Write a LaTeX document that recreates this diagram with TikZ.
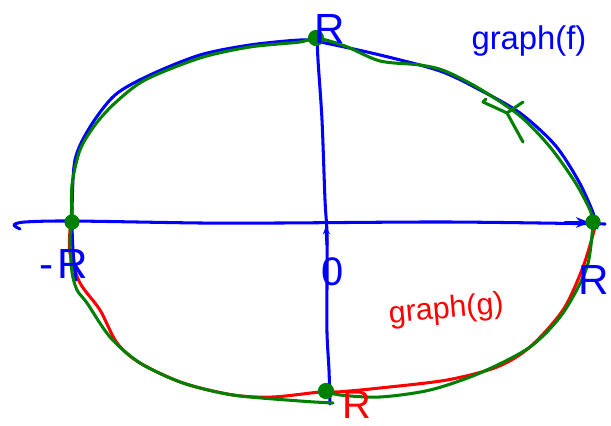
\documentclass[tikz,border=0pt]{standalone}
\usepackage{fontspec}
\setmainfont{Liberation Sans}
\usetikzlibrary{arrows.meta}
\definecolor{penblue}{RGB}{0,0,255}
\definecolor{pengreen}{RGB}{0,128,0}
\definecolor{penred}{RGB}{255,0,0}
\begin{document}
\begin{tikzpicture}[x=0.03cm,y=-0.03cm,line cap=round,line join=round,
  pen/.style={line width=2.6pt},
  bluepen/.style={pen,draw=penblue},
  greenpen/.style={pen,draw=pengreen},
  redpen/.style={pen,draw=penred},
  dotmark/.style={fill=pengreen,draw=pengreen,line width=1pt},
  lbl/.style={inner sep=0pt,font=\fontsize{#1}{#1}\selectfont},
  lbl/.default=34]
\useasboundingbox (0,0) rectangle (611,426);
% named points
\coordinate (T) at (316,38);
\coordinate (L) at (72,222);
\coordinate (Rt) at (593,222);
\coordinate (B) at (326,391);
% axes
\draw[bluepen] plot[smooth] coordinates {(20,229) (14,225) (25,222) (72,221) (200,223) (280,223) (447,222) (605,224)};
\draw[bluepen,-{Stealth[length=12pt,width=9pt]}] (565,222.5) -- (590,222.5);
\draw[bluepen] plot[smooth] coordinates {(330,404) (329,370) (327,333) (327,280) (327,233) (325,200) (322,120) (318,60) (317,33)};
\draw[bluepen,-{Stealth[length=7pt,width=6pt]}] (327,245) -- (326,226);
% red lower half
\draw[redpen] plot[smooth] coordinates {(72,207) (70,230) (70,253) (80,283) (100,310) (117,343) (140,363) (183,383) (233,395) (273,397) (320,392) (337,392) (380,388) (447,380) (497,367) (530,347) (563,310) (583,267) (595,227) (596,218)};
% blue upper half
\draw[bluepen] plot[smooth] coordinates {(76,280) (73,250) (72,213) (75,160) (90,127) (115,95) (150,75) (200,55) (250,45) (300,40) (320,42) (380,55) (440,71) (480,90) (520,113) (555,145) (578,180) (592,210) (597,228)};
% green closed loop
\draw[greenpen] plot[smooth] coordinates {(L) (72,185) (80,150) (95,125) (115,103) (145,80) (200,58) (250,47) (300,42) (T) (345,46) (380,61) (420,65) (445,71) (480,89) (520,116) (550,147) (575,182) (590,210) (Rt)};
\draw[greenpen] plot[smooth] coordinates {(L) (70,240) (72,272) (77,290) (87,303) (110,337) (140,363) (183,383) (233,395) (300,401) (333,403)};
\draw[greenpen] plot[smooth] coordinates {(B) (340,395) (380,397) (430,390) (480,373) (530,347) (563,313) (587,267) (Rt)};
% green arrow mark
\draw[greenpen] (486,99) -- (483,102) -- (507,113);
\draw[greenpen] (523,102) -- (507,113) -- (523,142);
% dots
\fill[dotmark] (T) circle (7.5);
\fill[dotmark] (L) circle (7);
\fill[dotmark] (Rt) circle (7);
\fill[dotmark] (B) circle (7.5);
% labels
\node[lbl=36,text=penblue] (rtop) at (330,29) {R};
\node[lbl=36,text=penblue] (rright) at (594,280) {R};
\node[lbl=36,text=penblue] (rleft) at (64,264) {-\hspace{3pt}R};
\node[lbl=34,text=penred] (rbot) at (357,405) {R};
\node[lbl=34,text=penblue] (zero) at (333,272) {0};
\node[lbl=28,text=penblue,anchor=base] (gf) at (529,50) {graph(f)};
\node[lbl=26,text=penred,anchor=base,rotate=5] (gg) at (447,318) {graph(g)};
\end{tikzpicture}
\end{document}
